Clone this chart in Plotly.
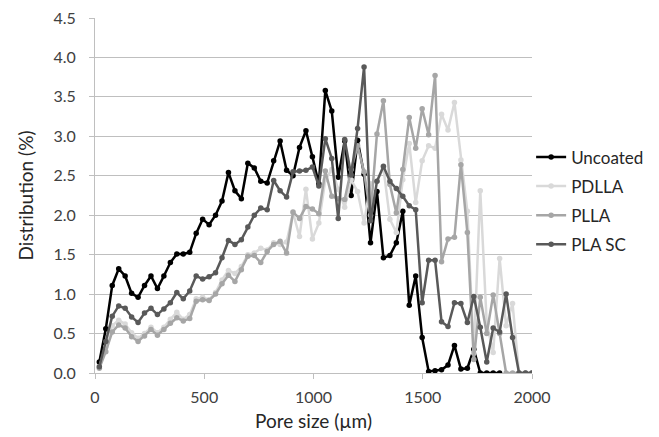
import plotly.graph_objects as go

pore_size = [19.8, 49.4, 78.9, 108.5, 138.0, 167.6, 197.1, 226.7, 256.2, 285.8,
             315.3, 344.9, 374.4, 404.0, 433.5, 463.1, 492.6, 522.2, 551.7, 581.3,
             610.8, 640.4, 669.9, 699.5, 729.0, 758.6, 788.1, 817.7, 847.2, 876.8,
             906.3, 935.9, 965.4, 995.0, 1024.5, 1054.1, 1083.6, 1113.2, 1142.7, 1172.3,
             1201.8, 1231.4, 1260.9, 1290.5, 1320.0, 1349.6, 1379.1, 1408.7, 1438.2, 1467.8,
             1497.3, 1526.9, 1556.4, 1586.0, 1615.5, 1645.1, 1674.6, 1704.2, 1733.7, 1763.3,
             1792.8, 1822.4, 1851.9, 1881.5, 1911.0, 1940.6, 1970.1, 1999.7]

uncoated = [0.14, 0.56, 1.11, 1.32, 1.23, 1.01, 0.96, 1.11, 1.23, 1.07,
            1.23, 1.40, 1.51, 1.51, 1.53, 1.77, 1.95, 1.88, 2.00, 2.18,
            2.54, 2.31, 2.21, 2.66, 2.60, 2.43, 2.41, 2.69, 2.94, 2.57,
            2.50, 2.86, 3.07, 2.74, 2.40, 3.58, 3.32, 2.48, 2.94, 2.25,
            2.95, 2.52, 1.65, 2.30, 1.46, 1.49, 1.65, 2.05, 0.86, 1.23,
            0.45, 0.02, 0.03, 0.04, 0.10, 0.35, 0.05, 0.06, 0.30, 0.00,
            0.00, 0.00, 0.00]

pdlla = [0.08, 0.33, 0.60, 0.67, 0.62, 0.51, 0.44, 0.50, 0.58, 0.51,
         0.58, 0.68, 0.77, 0.68, 0.74, 0.94, 0.96, 0.93, 1.02, 1.18,
         1.30, 1.26, 1.35, 1.50, 1.52, 1.58, 1.56, 1.65, 1.63, 1.66,
         2.03, 1.73, 2.33, 1.70, 1.90, 2.45, 2.58, 2.33, 2.10, 2.45,
         2.30, 1.90, 2.40, 2.43, 2.60, 1.95, 1.78, 2.45, 2.91, 2.16,
         2.69, 2.88, 2.85, 3.28, 3.08, 3.43, 2.70, 2.05, 0.25, 2.31,
         0.63, 0.26, 1.45, 0.60, 0.88, 0.00, 0.00, 0.00]

plla = [0.06, 0.27, 0.52, 0.61, 0.57, 0.46, 0.40, 0.47, 0.55, 0.48,
        0.55, 0.63, 0.70, 0.66, 0.69, 0.91, 0.93, 0.92, 1.00, 1.13,
        1.24, 1.16, 1.31, 1.48, 1.49, 1.40, 1.54, 1.63, 1.67, 1.52,
        2.04, 1.96, 2.11, 2.08, 2.02, 2.56, 2.24, 2.21, 2.20, 2.58,
        2.88, 2.55, 2.00, 3.03, 3.45, 2.39, 2.03, 2.58, 3.24, 2.85,
        3.35, 3.02, 3.77, 1.41, 1.70, 1.72, 2.64, 1.78, 0.17, 0.96,
        0.50, 0.99, 0.50, 0.00, 0.00, 0.00, 0.00, 0.00]

pla_sc = [0.08, 0.40, 0.72, 0.85, 0.82, 0.71, 0.64, 0.76, 0.82, 0.74,
          0.81, 0.89, 1.02, 0.94, 1.04, 1.23, 1.19, 1.22, 1.27, 1.46,
          1.68, 1.63, 1.69, 1.85, 2.00, 2.09, 2.07, 2.44, 2.31, 2.23,
          2.55, 2.56, 2.57, 2.61, 2.37, 2.97, 2.72, 1.96, 2.96, 2.51,
          3.10, 3.88, 1.93, 2.43, 2.62, 2.43, 2.34, 2.24, 2.12, 2.07,
          0.89, 1.43, 1.43, 0.65, 0.59, 0.89, 0.88, 0.64, 0.97, 0.58,
          0.14, 0.57, 0.52, 1.00, 0.45, 0.00, 0.00, 0.00]

series = [
    ("Uncoated", uncoated, "#000000"),
    ("PDLLA", pdlla, "#d9d9d9"),
    ("PLLA", plla, "#a6a6a6"),
    ("PLA SC", pla_sc, "#595959"),
]

FONT = "Lato"
fig = go.Figure()
for i, (name, vals, col) in enumerate(series):
    fig.add_trace(go.Scatter(
        x=pore_size[:len(vals)], y=vals, name=name, mode="lines+markers",
        line=dict(color=col, width=2.5),
        marker=dict(color=col, size=5.5, symbol="circle"),
        legendgroup=f"g{i}",
    ))

fig.update_layout(
    width=659, height=437,
    margin=dict(l=95, r=127, t=18, b=64, autoexpand=False),
    paper_bgcolor="white", plot_bgcolor="white",
    font=dict(family=FONT, color="#404040", size=16),
    showlegend=True,
    legend=dict(x=0.998, xanchor="left", y=0.658, yanchor="top",
                font=dict(family=FONT, size=17, color="#262626"),
                traceorder="grouped", tracegroupgap=4,
                itemwidth=30, bgcolor="rgba(0,0,0,0)"),
    xaxis=dict(range=[0, 2000], tickvals=[0, 500, 1000, 1500, 2000],
               showgrid=False, zeroline=False, automargin=False,
               showline=True, linecolor="#bfbfbf", linewidth=1,
               ticks="outside", ticklen=5, tickcolor="#bfbfbf",
               ticklabelstandoff=5,
               tickfont=dict(size=16, color="#404040"),
               title=dict(text="Pore size (µm)", font=dict(size=19, color="#262626"), standoff=9)),
    yaxis=dict(range=[0, 4.5], tickvals=[0, 0.5, 1, 1.5, 2, 2.5, 3, 3.5, 4, 4.5],
               tickformat=".1f", automargin=False,
               showgrid=True, gridcolor="#bfbfbf", gridwidth=1, zeroline=False,
               showline=True, linecolor="#bfbfbf", linewidth=1,
               ticks="outside", ticklen=5, tickcolor="#bfbfbf",
               ticklabelstandoff=10,
               tickfont=dict(size=16, color="#404040"),
               title=dict(text="Distribution (%)", font=dict(size=19, color="#262626"), standoff=14)),
)

fig.write_html("out.html",
               config={"displayModeBar": False},
               post_script="document.body.style.margin='0';document.body.style.padding='0';")
